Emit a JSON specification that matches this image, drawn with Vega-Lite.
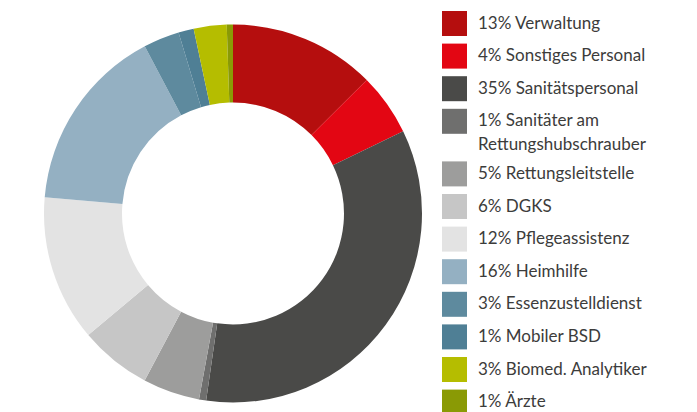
{
  "$schema": "https://vega.github.io/schema/vega-lite/v6.json",
  "width": 466,
  "height": 401,
  "autosize": {"type": "none"},
  "padding": {"left": 0, "top": 13, "right": 231, "bottom": 0},
  "background": "white",
  "data": {"values": [
    {"rank": 1, "label": "13% Verwaltung", "value": 12.51},
    {"rank": 2, "label": "4% Sonstiges Personal", "value": 5.32},
    {"rank": 3, "label": "35% Sanitätspersonal", "value": 34.44},
    {"rank": 4, "label": "1% Sanitäter am|Rettungshubschrauber", "value": 0.61},
    {"rank": 5, "label": "5% Rettungsleitstelle", "value": 4.86},
    {"rank": 6, "label": "6% DGKS", "value": 6.14},
    {"rank": 7, "label": "12% Pflegeassistenz", "value": 12.5},
    {"rank": 8, "label": "16% Heimhilfe", "value": 15.89},
    {"rank": 9, "label": "3% Essenzustelldienst", "value": 3.08},
    {"rank": 10, "label": "1% Mobiler BSD", "value": 1.31},
    {"rank": 11, "label": "3% Biomed. Analytiker", "value": 2.81},
    {"rank": 12, "label": "1% Ärzte", "value": 0.53}
  ]},
  "mark": {"type": "arc", "innerRadius": 111, "outerRadius": 189},
  "encoding": {
    "theta": {"field": "value", "type": "quantitative", "stack": true},
    "order": {"field": "rank", "type": "quantitative"},
    "color": {
      "field": "label", "type": "nominal", "sort": null,
      "scale": {
        "domain": ["13% Verwaltung", "4% Sonstiges Personal", "35% Sanitätspersonal", "1% Sanitäter am|Rettungshubschrauber", "5% Rettungsleitstelle", "6% DGKS", "12% Pflegeassistenz", "16% Heimhilfe", "3% Essenzustelldienst", "1% Mobiler BSD", "3% Biomed. Analytiker", "1% Ärzte"],
        "range": ["#B50E0E", "#E30613", "#4A4A48", "#6F6F6E", "#9D9D9C", "#C6C6C6", "#E3E3E3", "#94B0C2", "#5E8A9E", "#4F7F95", "#B5BD00", "#8A9A05"]
      },
      "legend": {
        "title": null, "orient": "none", "legendX": 442, "legendY": -2, "padding": 0,
        "symbolType": "square", "symbolSize": 625, "symbolStrokeWidth": 0, "symbolOpacity": 1,
        "labelFont": "Lato", "labelFontSize": 17, "labelColor": "#3c3c3b", "labelOffset": 11,
        "rowPadding": 7.6, "labelLimit": 300,
        "labelExpr": "split(datum.label, '|')"
      }
    }
  },
  "config": {"view": {"stroke": null}, "style": {"guide-label": {"lineHeight": 24}}}
}
